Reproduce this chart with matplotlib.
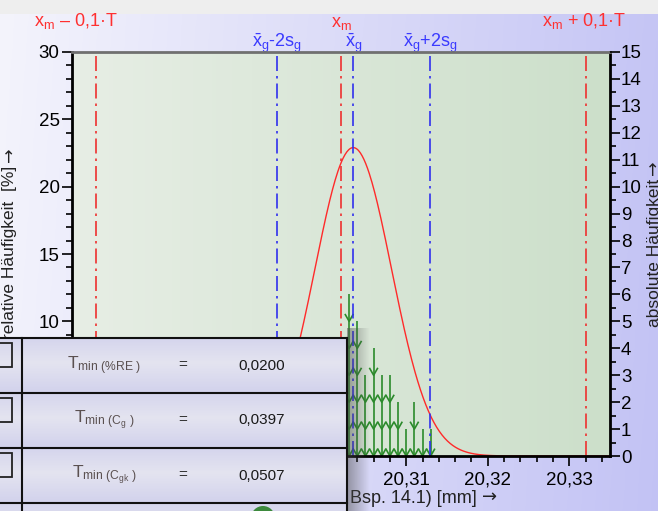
import numpy as np
import matplotlib
matplotlib.use('Agg')
import matplotlib.pyplot as plt
import matplotlib.transforms as mtransforms
from matplotlib.collections import LineCollection
from matplotlib.patches import Rectangle, Circle
from matplotlib.ticker import MultipleLocator, FuncFormatter

plt.rcParams['font.family'] = ['Liberation Sans', 'DejaVu Sans']
plt.rcParams['mathtext.fontset'] = 'custom'
plt.rcParams['mathtext.rm'] = 'Liberation Sans'
plt.rcParams['mathtext.it'] = 'Liberation Sans:italic'

# measured values [mm] and how often each one occurs (left part hidden by the table)
values = [20.295, 20.296, 20.297, 20.298, 20.299, 20.300, 20.301, 20.302,
          20.303, 20.304, 20.305, 20.306, 20.307, 20.308, 20.309, 20.310,
          20.311, 20.312, 20.313]
counts = [1, 1, 2, 2, 3, 3, 3, 4,
          6, 5, 3, 4, 3, 3, 2, 1,
          2, 1, 1]

x_m = 20.302        # reference value
tol = 0.30          # tolerance T
x_g = 20.3035       # mean
s_g = 0.0047        # std dev
curve_peak = 22.9   # peak of fitted curve [%]

t_names = ["%RE", "C_g", "C_gk"]
t_values = ["0,0200", "0,0397", "0,0507"]

n_total = sum(counts)
pct = 100.0 / n_total

W, H = 658, 511
fig = plt.figure(figsize=(W / 100, H / 100), dpi=100)
renderer = fig.canvas.get_renderer()

# background gradient
bg = fig.add_axes([0, 0, 1, 1], zorder=-10)
gx = np.linspace(0, 1, 200)
gy = np.linspace(0, 1, 200)
GX, GY = np.meshgrid(gx, gy)
c0 = np.array([244, 244, 252]) / 255
c1 = np.array([192, 192, 244]) / 255
t = np.clip(GX * 0.9 + GY * 0.05, 0, 1)[..., None]
img = c0 * (1 - t) + c1 * t
bg.imshow(img, extent=(0, W, H, 0), aspect='auto', origin='upper')
bg.add_patch(Rectangle((0, 0), W, 14, facecolor='#eeeeee', edgecolor='none'))
bg.set_xlim(0, W)
bg.set_ylim(H, 0)
bg.axis('off')

ax = fig.add_axes([72 / W, 55 / H, 538 / W, 404 / H], zorder=1)
ax.patch.set_alpha(0)
pc0 = np.array([231, 238, 229]) / 255
pc1 = np.array([204, 223, 202]) / 255
pt = np.linspace(0, 1, 200)[None, :, None]
pimg = np.repeat(pc0 * (1 - pt) + pc1 * pt, 2, axis=0)
ax.imshow(pimg, extent=(0, 1, 0, 1), transform=ax.transAxes, aspect='auto', zorder=0)

xlim = (20.269, 20.335)
ax.set_xlim(*xlim)
ax.set_ylim(0, 30)

# fitted curve
xs = np.linspace(xlim[0], xlim[1], 600)
ys = curve_peak * np.exp(-0.5 * ((xs - x_g) / s_g) ** 2)
ax.plot(xs, ys, color='#ff2a2a', lw=1.0, zorder=4, clip_on=False)

# arrows, one per measurement, stacked
hw, hh = 0.00052, 0.55
segs = []
for v, n in zip(values, counts):
    for k in range(n):
        y0 = k * pct
        segs.append([(v, y0), (v, y0 + pct)])
        segs.append([(v - hw, y0 + hh), (v, y0), (v + hw, y0 + hh)])
ax.add_collection(LineCollection(segs, colors='#2b8a2b', linewidths=1.2, zorder=3))

# reference lines
dd = (0, (9, 3, 1.5, 3))
red_lines = [x_m - 0.1 * tol, x_m, x_m + 0.1 * tol]
blue_lines = [x_g - 2 * s_g, x_g, x_g + 2 * s_g]
for xv in red_lines:
    ax.axvline(xv, color='#ee3030', lw=1.2, ls=dd, zorder=5)
for xv in blue_lines:
    ax.axvline(xv, color='#3030ee', lw=1.2, ls=dd, zorder=5)

trans = mtransforms.blended_transform_factory(ax.transData, fig.transFigure)
red_txt = [r"$\mathrm{x_m}$ – 0,1·T", r"$\mathrm{x_m}$", r"$\mathrm{x_m}$ + 0,1·T"]
red_off = [-21, 0, -1]
red_y = [(H - 21) / H, (H - 23) / H, (H - 21) / H]
for xv, s, off, yy in zip(red_lines, red_txt, red_off, red_y):
    ax.annotate(s, xy=(xv, yy), xycoords=trans, xytext=(off * 0.72, 0), textcoords='offset points',
                ha='center', va='center', color='#ff3030', fontsize=13, annotation_clip=False)
blue_txt = [r"$\mathrm{\bar{x}_g}$-2$\mathrm{s_g}$", r"$\mathrm{\bar{x}_g}$", r"$\mathrm{\bar{x}_g}$+2$\mathrm{s_g}$"]
for xv, s in zip(blue_lines, blue_txt):
    ax.text(xv, (H - 43) / H, s, transform=trans, ha='center', va='center', color='#3a3aff', fontsize=13)

# axes styling
for side in ['left', 'bottom', 'right']:
    ax.spines[side].set_linewidth(2)
    ax.spines[side].set_color('black')
ax.spines['top'].set_linewidth(2)
ax.spines['top'].set_color('#707070')
for sp in ax.spines.values():
    sp.set_zorder(6)


def fmt_x(v, p):
    # labels left of 20,31 sit under the table
    if v < 20.305:
        return ""
    return f"{v:.2f}".replace('.', ',')


ax.yaxis.set_major_locator(MultipleLocator(5))
ax.yaxis.set_minor_locator(MultipleLocator(1))
ax.xaxis.set_major_locator(MultipleLocator(0.01))
ax.xaxis.set_minor_locator(MultipleLocator(0.002))
ax.xaxis.set_major_formatter(FuncFormatter(fmt_x))
ax.yaxis.set_major_formatter(FuncFormatter(lambda v, p: "" if v < 9 else f"{v:.0f}"))
ax.tick_params(which='major', length=7, width=1.2, labelsize=13.5, pad=2)
ax.tick_params(which='minor', length=4, width=1.2)
ax.tick_params(axis='x', which='major', pad=4)

ax2 = ax.twinx()
ax2.set_ylim(0, 30 / pct)
ax2.yaxis.set_major_locator(MultipleLocator(1))
ax2.yaxis.set_minor_locator(MultipleLocator(0.5))
ax2.tick_params(which='major', length=7, width=1.2, labelsize=13.5, pad=1)
ax2.tick_params(which='minor', length=4, width=1.2)
for sp in ax2.spines.values():
    sp.set_visible(False)

# axis titles, arrow glyph from DejaVu (longer, centred)
lbl_kw = dict(fontsize=12.5, color='#222222')
tl = fig.text(10 / W, (H - 339) / H, "relative Häufigkeit  [%]", rotation=90,
              ha='center', va='bottom', **lbl_kw)
bb = tl.get_window_extent(renderer)
fig.text(10 / W, (bb.y1 + 4) / H, "→", rotation=90, ha='center', va='bottom',
         family='DejaVu Sans', **lbl_kw)
tr = fig.text(654 / W, (H - 327) / H, "absolute Häufigkeit", rotation=90,
              ha='center', va='bottom', **lbl_kw)
bb = tr.get_window_extent(renderer)
fig.text(654 / W, (bb.y1 + 4) / H, "→", rotation=90, ha='center', va='bottom',
         family='DejaVu Sans', **lbl_kw)
ta = fig.text(497 / W, (H - 502) / H, "→", ha='right', va='baseline',
              family='DejaVu Sans', fontsize=13, color='#222222')
bb = ta.get_window_extent(renderer)
fig.text((bb.x0 - 5) / W, (H - 503) / H, "Bsp. 14.1) [mm]",
         ha='right', va='baseline', fontsize=13, color='#222222')

# table overlay
ov = fig.add_axes([0, 0, 1, 1], zorder=10)
ov.set_xlim(0, W)
ov.set_ylim(H, 0)
ov.axis('off')
ov.patch.set_alpha(0)

# shadow right of table
sh = np.zeros((2, 50, 4))
sh[..., 0:3] = 0.3
sh[..., 3] = np.linspace(0.5, 0.0, 50)[None, :]
ov.imshow(sh, extent=(347, 370, H, 328), aspect='auto', zorder=1)

row_tops = [338, 393, 448, 503]
rh = 55
vy = np.linspace(0, 1, 60)
rg = 1 - 0.55 * np.abs(vy - 0.45) * 2
rc_dark = np.array([198, 198, 234]) / 255
rc_light = np.array([228, 228, 240]) / 255
rimg = (rc_dark * (1 - rg[:, None]) + rc_light * rg[:, None])[:, None, :]
for top in row_tops:
    ov.imshow(rimg, extent=(0, 347, top + rh, top), aspect='auto', zorder=2)
    ov.plot([0, 347], [top, top], color='#111111', lw=1.5, zorder=4)
ov.plot([22, 22], [338, H], color='#111111', lw=1.5, zorder=4)
ov.plot([347, 347], [338, H], color='#111111', lw=1.5, zorder=4)
ov.add_patch(Circle((263, 518), 12, facecolor='#3d8a3d', edgecolor='none', zorder=3))

for i, top in enumerate(row_tops[:3]):
    ov.add_patch(Rectangle((-12, top + 5), 24, 24, facecolor='none', edgecolor='#222222', lw=1.3, zorder=4))
    ym = top + rh / 2
    name = t_names[i]
    if '_' in name:
        a, b = name.split('_')
        sub = r"$_{\mathrm{min\ (" + a + r"_{" + b + r"}\ )}}$"
    else:
        sub = r"$_{\mathrm{min\ (\%" + name[1:] + r"\ )}}$"
    ov.text(104, ym, "T" + sub, ha='center', va='center', fontsize=12.5, color='#5a5050', zorder=5)
    ov.text(183, ym, "=", ha='center', va='center', fontsize=11, color='#333333', zorder=5)
    ov.text(262, ym, t_values[i], ha='center', va='center', fontsize=11, color='#1a1a1a', zorder=5)

fig.savefig('out.png', dpi=100)
